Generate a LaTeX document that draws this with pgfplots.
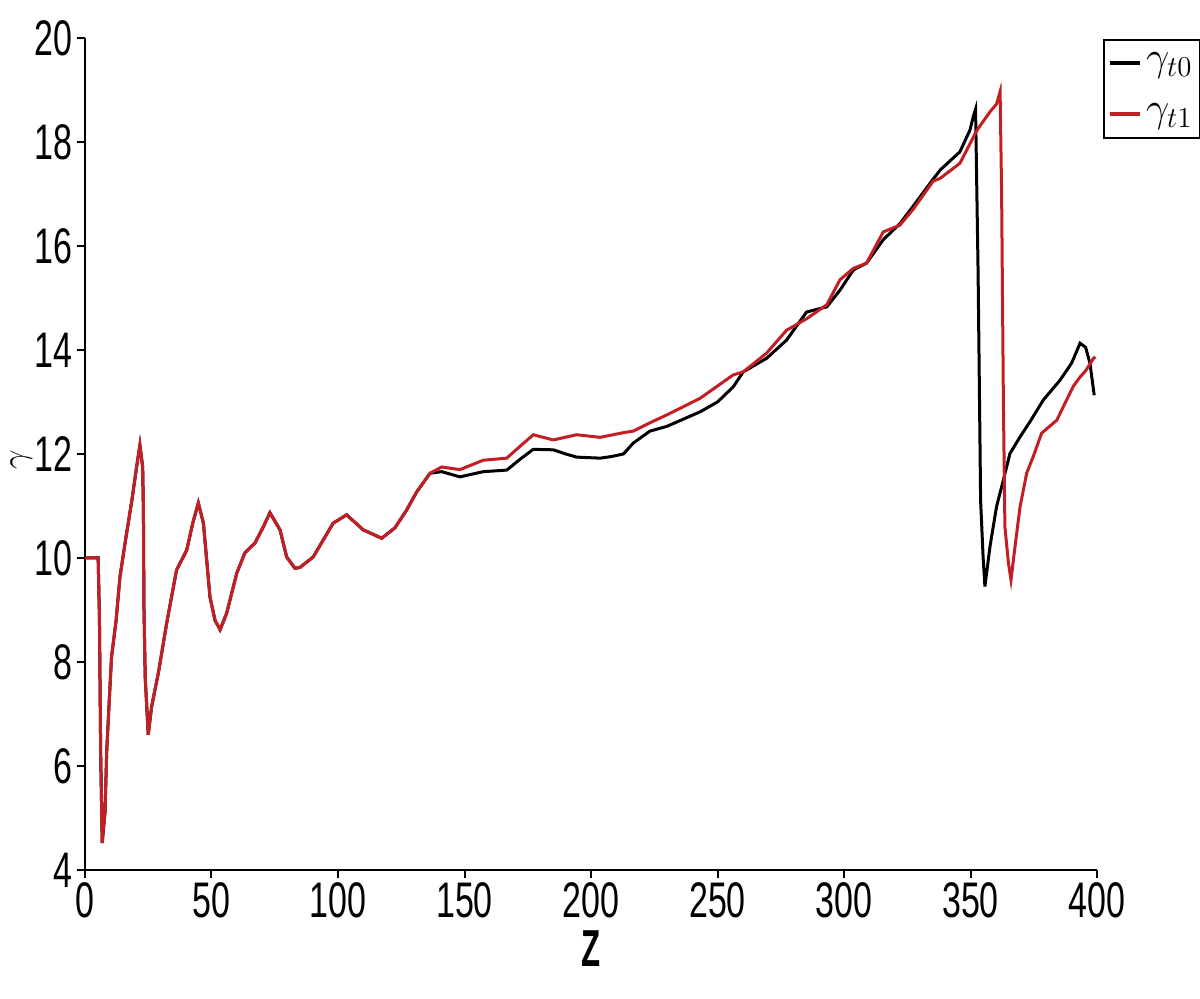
\documentclass[border=0pt]{standalone}
\usepackage{pgfplots}
\pgfplotsset{compat=1.18}
\usepackage{fontspec}
\newfontfamily\condfont[FakeStretch=0.68]{Liberation Sans}
\newfontfamily\condZ[FakeStretch=0.6]{Liberation Sans}
\definecolor{tred}{RGB}{195,30,35}

\pgfplotstableread{
x y
0 10
5.2 10
5.7 8.87
6.2 6.25
6.8 4.52
7.9 5.1
8.6 6.3
9.6 7.27
10.5 8.1
12.3 8.8
13.8 9.63
16.2 10.4
18.5 11.1
20.4 11.75
21.7 12.17
22.8 11.75
23.1 10.87
23.3 9.06
23.8 7.7
25.0 6.6
26.3 7.13
29.0 7.79
32.3 8.75
36.2 9.77
40.2 10.15
42.6 10.67
44.8 11.06
46.8 10.67
49.4 9.25
51.4 8.8
53.4 8.62
56.0 8.94
60.0 9.71
63.2 10.1
67.2 10.29
70.5 10.6
73.1 10.87
77.1 10.54
79.7 10.02
83.0 9.8
85.0 9.82
90.2 10.02
98.1 10.67
103.4 10.83
110 10.54
117.3 10.38
122.5 10.58
127.1 10.92
131.1 11.27
136.4 11.63
141 11.66
148.2 11.56
157.4 11.66
166.7 11.69
172 11.9
177.2 12.09
185.1 12.08
190 12.0
194.3 11.94
203.6 11.92
208 11.95
212.8 12.0
216.7 12.21
223.3 12.44
229.9 12.53
243.1 12.81
250 13.0
256.2 13.29
260.2 13.58
269.4 13.84
277.3 14.19
285.2 14.73
293.2 14.83
298.4 15.15
303.7 15.54
308.9 15.67
315.5 16.12
322.1 16.43
327.4 16.77
335.3 17.29
338 17.46
345.8 17.81
349.8 18.23
351.1 18.49
352.0 18.63
353.0 15.5
354.0 11.1
355.0 10.0
355.7 9.45
357.7 10.22
360.3 10.99
363 11.5
365.6 12.01
369.6 12.33
373.5 12.62
378.8 13.04
385.4 13.42
390 13.75
393.3 14.13
395.5 14.05
397.2 13.75
398.9 13.13
}\gtzero

\pgfplotstableread{
x y
0 10
5.2 10
5.7 8.87
6.2 6.25
6.8 4.52
7.9 5.1
8.6 6.3
9.6 7.27
10.5 8.1
12.3 8.8
13.8 9.63
16.2 10.4
18.5 11.1
20.4 11.75
21.7 12.17
22.8 11.75
23.1 10.87
23.3 9.06
23.8 7.7
25.0 6.6
26.3 7.13
29.0 7.79
32.3 8.75
36.2 9.77
40.2 10.15
42.6 10.67
44.8 11.06
46.8 10.67
49.4 9.25
51.4 8.8
53.4 8.62
56.0 8.94
60.0 9.71
63.2 10.1
67.2 10.29
70.5 10.6
73.1 10.87
77.1 10.54
79.7 10.02
83.0 9.8
85.0 9.82
90.2 10.02
98.1 10.67
103.4 10.83
110 10.54
117.3 10.38
122.5 10.58
127.1 10.92
131.1 11.27
136.4 11.63
141 11.75
148.2 11.7
157.4 11.88
166.7 11.92
172 12.15
177.2 12.37
185.1 12.27
194.3 12.37
203.6 12.32
212.8 12.41
216.7 12.44
223.3 12.6
229.9 12.75
243.1 13.07
256.2 13.52
260.2 13.58
269.4 13.94
277.3 14.38
285.2 14.6
293.2 14.87
298.4 15.35
303.7 15.57
308.9 15.67
315.5 16.27
322.1 16.4
327.4 16.71
335.3 17.25
338 17.3
345.8 17.59
352.6 18.23
357.7 18.58
360.3 18.73
361.7 18.97
362.3 17.0
363.0 13.0
363.6 10.6
365.0 9.9
366.0 9.58
367.6 10.22
369.6 10.99
372.2 11.63
374.8 11.95
378.1 12.4
384.1 12.65
388.0 13.04
390.6 13.3
393.3 13.48
395.5 13.6
398.5 13.83
399.3 13.87
}\gtone

\begin{document}
\begin{tikzpicture}
\begin{axis}[
  name=ax,
  scale only axis,
  width=506pt, height=416pt,
  xmin=0, xmax=400, ymin=4, ymax=20,
  axis lines*=left,
  axis line style={line width=1.2pt},
  xtick={0,50,...,400},
  ytick={4,6,...,20},
  tick align=outside,
  major tick length=4pt,
  tick style={black, line width=1pt},
  /pgf/number format/assume math mode=true,
  ticklabel style={font=\condfont\fontsize{25}{25}\selectfont},
  xticklabel style={inner sep=1pt, yshift=-1pt},
  yticklabel style={inner sep=1pt, xshift=-1pt},
  xlabel={\condZ\bfseries Z},
  xlabel style={at={(axis description cs:0.5,-0.094)}, anchor=center,
                font=\fontsize{26}{26}\selectfont},
  ylabel={$\gamma$},
  ylabel style={at={(axis description cs:-0.063,0.493)}, anchor=center,
                font=\fontsize{19}{19}\selectfont},
  legend cell align=left,
  legend style={at={(1.006,0.999)}, anchor=north west, draw=black,
                line width=1pt, inner xsep=2pt, inner ysep=4.5pt, row sep=11pt,
                nodes={inner sep=2pt},
                font=\fontsize{22}{22}\selectfont},
  legend image code/.code={\draw[#1, line width=2pt] (0pt,0pt) -- (15pt,0pt);},
]
\addplot[black, line width=1.5pt] table {\gtzero};
\addlegendentry{$\gamma_{t0}$}
\addplot[tred, line width=1.5pt] table {\gtone};
\addlegendentry{$\gamma_{t1}$}
\end{axis}
\pgfresetboundingbox
\path ([shift={(-42.5pt,-64.5pt)}]ax.south west) rectangle ([shift={(51.5pt,19pt)}]ax.north east);
\end{tikzpicture}
\end{document}
